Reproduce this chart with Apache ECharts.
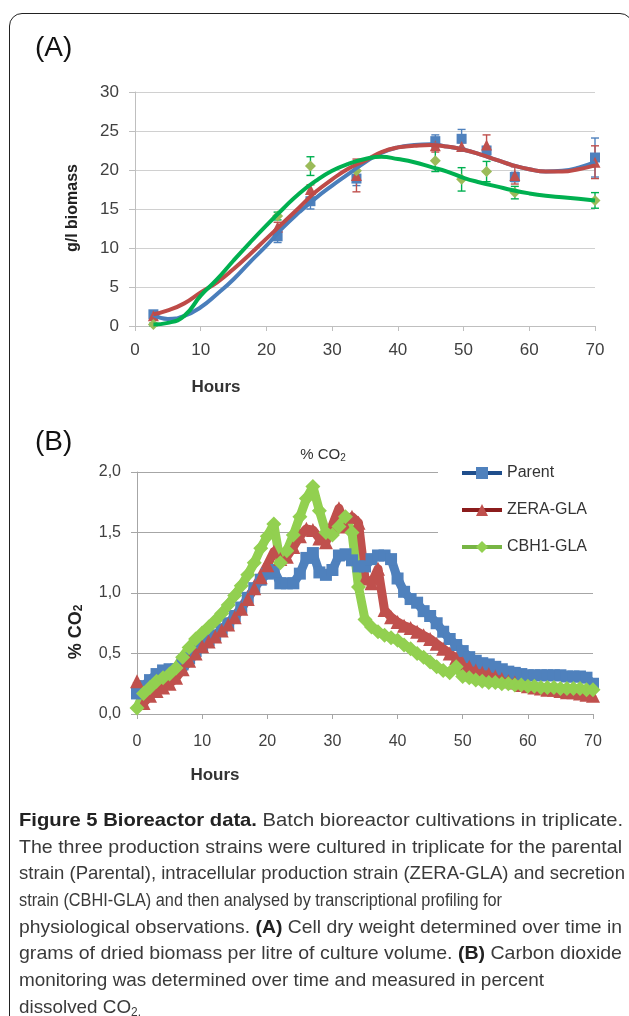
<!DOCTYPE html>
<html>
<head>
<meta charset="utf-8">
<script src="https://cdn.jsdelivr.net/npm/echarts@6/dist/echarts.min.js"></script>
<style>
  html, body { margin: 0; padding: 0; background: #fff; width: 629px; height: 1016px; overflow: hidden; }
  #chart { position: absolute; left: 0; top: 0; width: 629px; height: 1016px; }
  #frame { position: absolute; left: 9px; top: 13px; width: 624px; height: 1100px; border: 1.6px solid #222; border-radius: 13px; box-sizing: border-box; pointer-events: none; }
  #cap { position: absolute; left: 19px; top: 807px; font-family: "Liberation Sans", Arial, sans-serif; font-size: 19px; line-height: 26.7px; color: #3a3a3a; white-space: nowrap; }
  #cap .l { display: block; height: 26.7px; }
  #cap .l span.in { display: inline-block; transform-origin: 0 50%; }
  #cap b { color: #222; }
  #cap sub { font-size: 12px; vertical-align: -3px; line-height: 0; }
</style>
</head>
<body>
<div id="chart"></div>
<div id="frame"></div>
<div id="cap">
  <div class="l" data-w="604"><span class="in"><b>Figure 5 Bioreactor data.</b> Batch bioreactor cultivations in triplicate.</span></div>
  <div class="l" data-w="603"><span class="in">The three production strains were cultured in triplicate for the parental</span></div>
  <div class="l" data-w="606"><span class="in">strain (Parental), intracellular production strain (ZERA-GLA) and secretion</span></div>
  <div class="l" data-w="483"><span class="in">strain (CBHI-GLA) and then analysed by transcriptional profiling for</span></div>
  <div class="l" data-w="603"><span class="in">physiological observations. <b>(A)</b> Cell dry weight determined over time in</span></div>
  <div class="l" data-w="603"><span class="in">grams of dried biomass per litre of culture volume. <b>(B)</b> Carbon dioxide</span></div>
  <div class="l" data-w="525"><span class="in">monitoring was determined over time and measured in percent</span></div>
  <div class="l" data-w="122"><span class="in">dissolved CO<sub>2.</sub></span></div>
</div>
<script>
// ---------- Panel A: biomass (g/l) ----------
const hoursA = [2.8, 21.7, 26.7, 33.7, 45.7, 49.7, 53.5, 57.8, 70];
const parentMass = [1.5, 11.5, 16.0, 18.9, 23.7, 24.0, 22.5, 19.1, 21.6];
const parentErr  = [0.4, 0.8, 1.0, 0.9, 0.8, 1.2, 0.5, 0.6, 2.5];
const zeraMass   = [1.3, 12.7, 17.5, 19.3, 23.1, 23.0, 23.2, 19.3, 21.0];
const zeraErr    = [0.4, 0.6, 0.6, 2.1, 0.8, 0.5, 1.3, 1.1, 2.1];
const cbh1Mass   = [0.2, 14.1, 20.5, 19.9, 21.2, 18.8, 19.8, 17.1, 16.1];
const cbh1Err    = [0.2, 0.5, 1.2, 0.5, 1.4, 1.5, 1.3, 0.8, 1.0];

// trend curves
const trendHours  = [2.8, 5, 7.5, 10, 12.5, 15, 17.5, 20, 22.5, 25, 27.5, 30, 32.5, 35, 37.5, 40, 42.5, 45, 47.5, 50, 52.5, 55, 57.5, 60, 62.5, 65, 67.5, 70];
const parentTrend = [1.4, 0.9, 1.3, 2.4, 4.1, 6.0, 8.2, 10.3, 12.6, 14.6, 16.4, 18.0, 19.5, 21.0, 22.2, 22.9, 23.2, 23.3, 23.0, 22.6, 22.0, 21.3, 20.6, 20.1, 19.8, 19.9, 20.3, 21.0];
const zeraTrend   = [1.5, 2.0, 2.9, 4.3, 5.6, 7.3, 9.2, 11.2, 13.2, 15.2, 17.2, 18.8, 20.2, 21.2, 22.3, 22.9, 23.1, 23.2, 23.0, 22.6, 22.0, 21.3, 20.6, 20.1, 19.8, 19.8, 20.1, 20.6];
const cbh1Trend   = [0.2, 0.4, 1.3, 3.9, 6.0, 8.4, 10.7, 12.9, 15.0, 17.0, 18.6, 19.9, 20.8, 21.4, 21.7, 21.4, 21.0, 20.4, 19.8, 19.0, 18.4, 17.9, 17.4, 17.0, 16.7, 16.5, 16.3, 16.1];

const xTicksA = ['0', '10', '20', '30', '40', '50', '60', '70'];
const yTicksA = ['0', '5', '10', '15', '20', '25', '30'];

// ---------- Panel B: % CO2 ----------
const hoursB = [0,1,2,3,4,5,6,7,8,9,10,11,12,13,14,15,16,17,18,19,20,21,22,23,24,25,26,27,28,29,30,31,32,33,34,35,36,37,38,39,40,41,42,43,44,45,46,47,48,49,50,51,52,53,54,55,56,57,58,59,60,61,62,63,64,65,66,67,68,69,70];
const parentCO2 = [
  0.17,0.23,0.28,0.33,0.36,0.37,0.37,0.41,0.46,0.52,
  0.57,0.61,0.65,0.70,0.75,0.81,0.88,0.96,1.04,1.11,
  1.16,1.19,1.08,1.08,1.08,1.16,1.29,1.33,1.17,1.15,
  1.19,1.31,1.32,1.27,1.22,1.22,1.28,1.31,1.31,1.28,
  1.12,1.01,0.95,0.92,0.85,0.81,0.75,0.68,0.62,0.57,
  0.52,0.47,0.44,0.42,0.41,0.39,0.37,0.35,0.34,0.33,
  0.32,0.32,0.32,0.32,0.32,0.32,0.31,0.31,0.31,0.30,
  0.25];
const zeraCO2 = [
  0.27,0.09,0.15,0.19,0.22,0.25,0.30,0.37,0.44,0.50,
  0.56,0.60,0.64,0.69,0.74,0.80,0.87,0.95,1.04,1.13,
  1.23,1.34,1.28,1.30,1.38,1.47,1.53,1.52,1.45,1.42,
  1.56,1.70,1.55,1.63,1.58,1.12,1.08,1.20,0.86,0.80,
  0.76,0.73,0.71,0.68,0.65,0.62,0.58,0.54,0.50,0.46,
  0.42,0.39,0.36,0.34,0.33,0.31,0.29,0.27,0.26,0.24,
  0.23,0.22,0.21,0.20,0.20,0.19,0.18,0.18,0.17,0.16,
  0.15];
const cbh1CO2 = [
  0.05,0.17,0.22,0.27,0.30,0.33,0.38,0.47,0.55,0.62,
  0.67,0.72,0.77,0.83,0.90,0.98,1.06,1.15,1.25,1.37,
  1.47,1.57,1.25,1.35,1.48,1.63,1.78,1.88,1.68,1.50,
  1.48,1.55,1.63,1.50,1.05,0.78,0.72,0.68,0.65,0.63,
  0.61,0.57,0.54,0.50,0.47,0.43,0.39,0.36,0.34,0.39,
  0.31,0.30,0.28,0.27,0.26,0.26,0.25,0.25,0.24,0.24,
  0.23,0.23,0.22,0.22,0.22,0.21,0.21,0.21,0.21,0.20,
  0.20];
const xTicksB = ['0', '10', '20', '30', '40', '50', '60', '70'];
const yTicksB = ['0,0', '0,5', '1,0', '1,5', '2,0'];
const seriesNamesB = ['Parent', 'ZERA-GLA', 'CBH1-GLA'];

// ---------- build ----------
const FONT = '"Liberation Sans", Arial, sans-serif';
const TXT = '#404040';
const pairs = (xs, ys) => xs.map((x, i) => [x, ys[i]]);
const errData = (xs, ys, es) => xs.map((x, i) => [x, ys[i] - es[i], ys[i] + es[i]]);

function errorSeries(data, color) {
  return {
    type: 'custom', xAxisIndex: 0, yAxisIndex: 0, z: 3, silent: true,
    data: data,
    encode: { x: 0, y: [1, 2] },
    renderItem: function (params, api) {
      const x = api.value(0);
      const lo = api.coord([x, api.value(1)]);
      const hi = api.coord([x, api.value(2)]);
      const w = 4;
      const st = { stroke: color, lineWidth: 1.4 };
      return {
        type: 'group',
        children: [
          { type: 'line', shape: { x1: lo[0], y1: lo[1], x2: hi[0], y2: hi[1] }, style: st },
          { type: 'line', shape: { x1: lo[0] - w, y1: lo[1], x2: lo[0] + w, y2: lo[1] }, style: st },
          { type: 'line', shape: { x1: hi[0] - w, y1: hi[1], x2: hi[0] + w, y2: hi[1] }, style: st }
        ]
      };
    }
  };
}
function pointSeries(name, data, symbol, color, size) {
  return { name: name, type: 'scatter', xAxisIndex: 0, yAxisIndex: 0, data: data, symbol: symbol, symbolSize: size, itemStyle: { color: color, opacity: 1 }, z: 4, silent: true };
}
function trendSeries(data, color) {
  return { type: 'line', xAxisIndex: 0, yAxisIndex: 0, data: data, smooth: 0.5, showSymbol: false, symbol: 'none', lineStyle: { color: color, width: 4 }, z: 5, silent: true };
}
function co2Series(name, data, symbol, color, size) {
  return {
    name: name, type: 'line', xAxisIndex: 1, yAxisIndex: 1, data: data,
    symbol: symbol, symbolSize: size, showSymbol: true, showAllSymbol: true,
    itemStyle: { color: color, opacity: 1 },
    lineStyle: { color: color, width: 9, join: 'round' }, silent: true
  };
}

const chart = echarts.init(document.getElementById('chart'), null, { renderer: 'canvas' });
const axisLine = { show: true, lineStyle: { color: '#bfbfbf', width: 1 } };
const option = {
  animation: false,
  backgroundColor: 'transparent',
  textStyle: { fontFamily: FONT },
  grid: [
    { left: 135, top: 92, width: 460, height: 234 },
    { left: 137, top: 472, width: 456, height: 242 }
  ],
  xAxis: [
    {
      gridIndex: 0, type: 'value', min: 0, max: 70, interval: 10,
      axisLine: axisLine, axisTick: { show: true, length: 5, lineStyle: { color: '#bfbfbf' } },
      splitLine: { show: false },
      axisLabel: { margin: 16, color: TXT, fontSize: 17, fontFamily: FONT, formatter: (v) => xTicksA[Math.round(v / 10)] }
    },
    {
      gridIndex: 1, type: 'value', min: 0, max: 70, interval: 10,
      axisLine: { show: true, lineStyle: { color: '#a6a6a6', width: 1 } },
      axisTick: { show: true, length: 5, lineStyle: { color: '#a6a6a6' } },
      splitLine: { show: false },
      axisLabel: { margin: 20, color: TXT, fontSize: 16, fontFamily: FONT, formatter: (v) => xTicksB[Math.round(v / 10)] }
    }
  ],
  yAxis: [
    {
      gridIndex: 0, type: 'value', min: 0, max: 30, interval: 5,
      axisLine: axisLine, axisTick: { show: true, length: 6, lineStyle: { color: '#bfbfbf' } },
      splitLine: { show: true, lineStyle: { color: '#d0d0d0', width: 1.2 } },
      axisLabel: { margin: 16, color: TXT, fontSize: 17, fontFamily: FONT, formatter: (v) => yTicksA[Math.round(v / 5)] }
    },
    {
      gridIndex: 1, type: 'value', min: 0, max: 2, interval: 0.5,
      axisLine: { show: true, lineStyle: { color: '#a6a6a6', width: 1 } },
      axisTick: { show: true, length: 6, lineStyle: { color: '#a6a6a6' } },
      splitLine: { show: true, lineStyle: { color: '#a6a6a6', width: 1 } },
      axisLabel: { margin: 16, color: TXT, fontSize: 16, fontFamily: FONT, formatter: (v) => yTicksB[Math.round(v / 0.5)] }
    }
  ],
  legend: {
    show: true, orient: 'vertical', left: 438, top: 455,
    padding: [10, 12, 10, 22], itemGap: 21, itemWidth: 40, itemHeight: 15,
    backgroundColor: '#ffffff',
    textStyle: { color: '#333', fontSize: 16, fontFamily: FONT, lineHeight: 14 },
    selectedMode: false,
    data: [
      { name: seriesNamesB[0], lineStyle: { color: '#1f4e8c', width: 4 }, itemStyle: { color: '#4f81bd' } },
      { name: seriesNamesB[1], lineStyle: { color: '#8b1c1c', width: 4 }, itemStyle: { color: '#c0504d' } },
      { name: seriesNamesB[2], lineStyle: { color: '#77b544', width: 4 }, itemStyle: { color: '#92d050' } }
    ]
  },
  graphic: [
    { type: 'text', x: 35, y: 48, style: { text: '(A)', font: '28px ' + FONT, fill: '#111', align: 'left', verticalAlign: 'middle' } },
    { type: 'text', x: 35, y: 442, style: { text: '(B)', font: '28px ' + FONT, fill: '#111', align: 'left', verticalAlign: 'middle' } },
    { type: 'text', x: 73, y: 208, rotation: Math.PI / 2, style: { text: 'g/l biomass', font: 'bold 16px ' + FONT, fill: '#222', align: 'center', verticalAlign: 'middle' } },
    { type: 'text', x: 216, y: 387, style: { text: 'Hours', font: 'bold 17px ' + FONT, fill: '#333', align: 'center', verticalAlign: 'middle' } },
    { type: 'text', x: 215, y: 775, style: { text: 'Hours', font: 'bold 17px ' + FONT, fill: '#333', align: 'center', verticalAlign: 'middle' } },
    { type: 'text', x: 323, y: 455, style: {
        text: '{a|% CO}{b|2}', align: 'center', verticalAlign: 'middle', fill: '#333',
        rich: { a: { fontSize: 15, fontFamily: FONT, fill: '#333', lineHeight: 16 }, b: { fontSize: 10, fontFamily: FONT, fill: '#333', lineHeight: 6, verticalAlign: 'bottom' } } } },
    { type: 'text', x: 76, y: 632, rotation: Math.PI / 2, style: {
        text: '{a|% CO}{b|2}', align: 'center', verticalAlign: 'middle', fill: '#222',
        rich: { a: { fontSize: 18, fontWeight: 'bold', fontFamily: FONT, fill: '#222', lineHeight: 18 }, b: { fontSize: 12, fontWeight: 'bold', fontFamily: FONT, fill: '#222', lineHeight: 6, verticalAlign: 'bottom' } } } }
  ],
  series: [
    errorSeries(errData(hoursA, parentMass, parentErr), '#4f81bd'),
    errorSeries(errData(hoursA, zeraMass, zeraErr), '#c0504d'),
    errorSeries(errData(hoursA, cbh1Mass, cbh1Err), '#00b050'),
    pointSeries('Parent A', pairs(hoursA, parentMass), 'rect', '#4f81bd', 10),
    pointSeries('ZERA A', pairs(hoursA, zeraMass), 'triangle', '#c0504d', 11),
    pointSeries('CBH1 A', pairs(hoursA, cbh1Mass), 'diamond', '#9bbb59', 11),
    trendSeries(pairs(trendHours, parentTrend), '#4a7ebb'),
    trendSeries(pairs(trendHours, zeraTrend), '#be4b48'),
    trendSeries(pairs(trendHours, cbh1Trend), '#00b050'),
    co2Series(seriesNamesB[0], pairs(hoursB, parentCO2), 'rect', '#4f81bd', 12),
    co2Series(seriesNamesB[1], pairs(hoursB, zeraCO2), 'triangle', '#c0504d', 14),
    co2Series(seriesNamesB[2], pairs(hoursB, cbh1CO2), 'diamond', '#92d050', 15)
  ]
};
chart.setOption(option);

// fit caption lines to the reference line widths
document.querySelectorAll('#cap .l').forEach(function (line) {
  const inner = line.querySelector('span.in');
  const target = parseFloat(line.dataset.w);
  const w = inner.getBoundingClientRect().width;
  if (w > 0) inner.style.transform = 'scaleX(' + (target / w) + ')';
});
</script>
</body>
</html>
